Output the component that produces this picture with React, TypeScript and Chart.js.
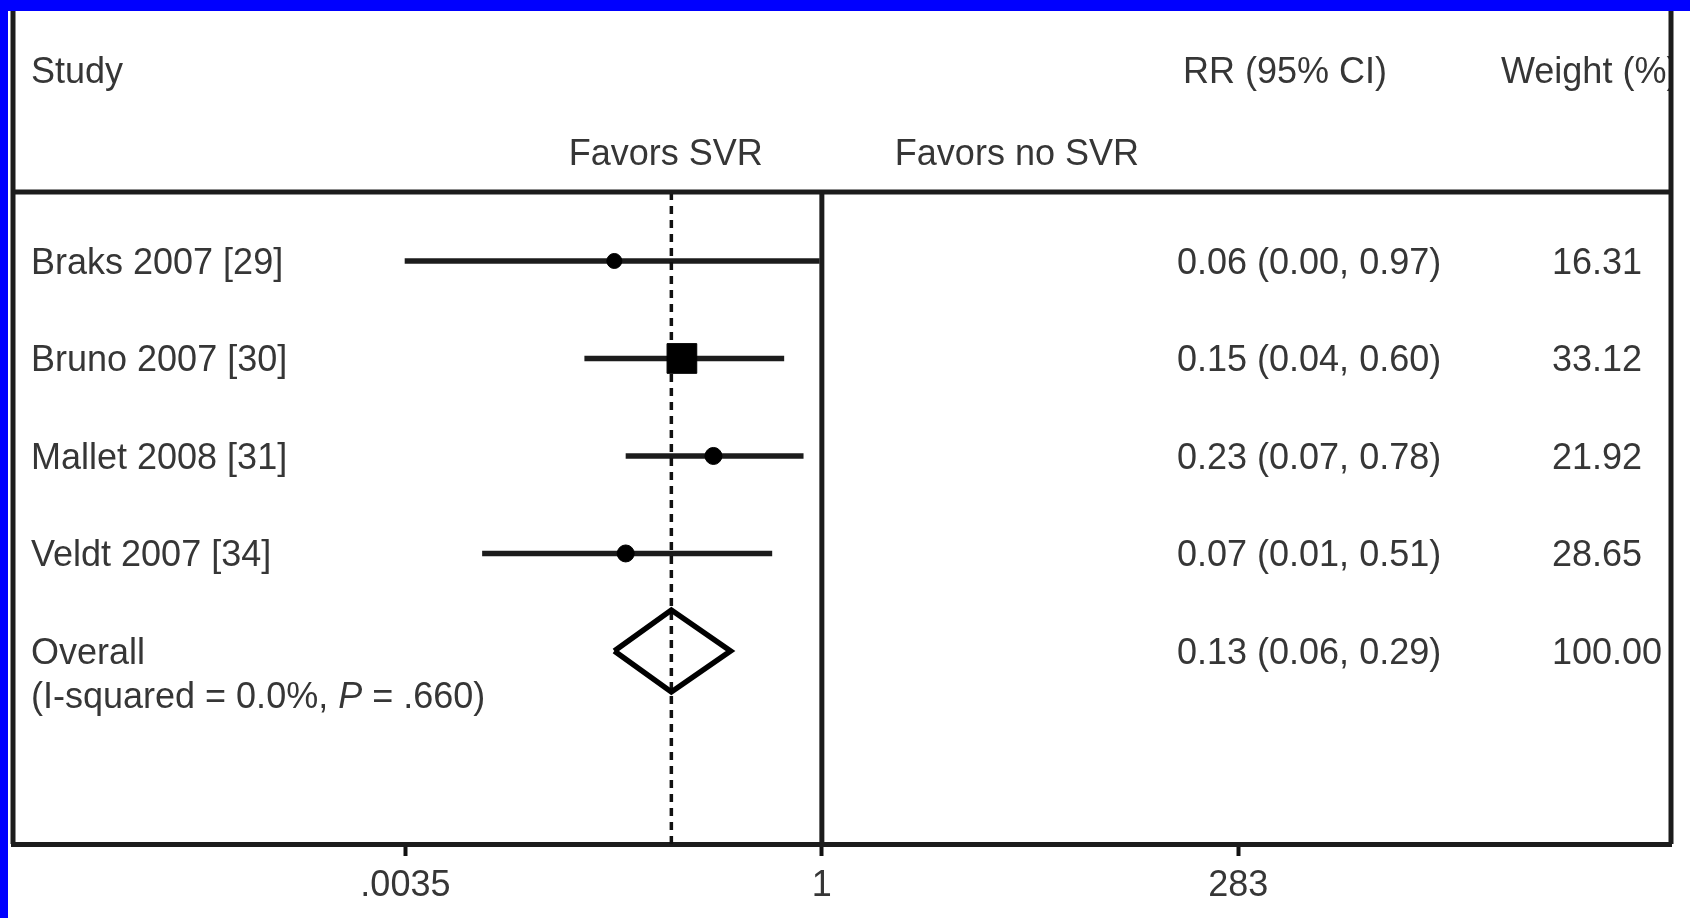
import React, { useEffect, useRef } from 'react';
import { Chart, registerables } from 'chart.js';

Chart.register(...registerables);

// ---------- data ----------
const studies = ['Braks 2007 [29]', 'Bruno 2007 [30]', 'Mallet 2008 [31]', 'Veldt 2007 [34]'];
const rr = [0.06, 0.15, 0.23, 0.07];
const ciLow = [0.0035, 0.04, 0.07, 0.01];
const ciHigh = [0.97, 0.6, 0.78, 0.51];
const weights = [16.31, 33.12, 21.92, 28.65];

const overallLabel = 'Overall';
const overallRR = 0.13;
const overallLow = 0.06;
const overallHigh = 0.29;
const overallWeight = 100.0;

const hetPre = '(I-squared = 0.0%, ';
const hetP = 'P';
const hetPost = ' = .660)';

const tickValues = [1 / 283, 1, 283];
const tickLabels = ['.0035', '1', '283'];

const headerStudy = 'Study';
const headerRR = 'RR (95% CI)';
const headerWeight = 'Weight (%)';
const favorLeft = 'Favors SVR';
const favorRight = 'Favors no SVR';

// ---------- styles / layout ----------
const FAMILY = '"Liberation Sans", Arial, Helvetica, sans-serif';
const FONT_SIZE = 36;
const TEXT_COLOR = '#363636';
const LINE_COLOR = '#1c1c1c';
const X_MIN = 1.73e-5;
const X_MAX = 9.98e4;
const Y_MIN = -1.564;
const Y_MAX = 6.98;
const SEP_Y = 0.292;
const HEADER_Y = -0.96;
const FAVOR_Y = -0.118;
const HET_Y = 5.451;
const TEXT_DY = 3;
const DIAMOND_HALF = 0.42;
const markerStyles = ['circle', 'rect', 'circle', 'circle'];
const markerRadius = [7.5, 21, 8.5, 8.5];

const fmt = (v: number) => v.toFixed(2);

const forestPlugin = {
  id: 'forestDecor',
  afterDraw(chart: any) {
    const { ctx, chartArea: a, scales } = chart;
    const y = scales.y;
    const x = scales.x;
    const py = (v: number) => y.getPixelForValue(v) + TEXT_DY;
    ctx.save();
    ctx.fillStyle = TEXT_COLOR;
    ctx.textBaseline = 'middle';
    const normal = `${FONT_SIZE}px ${FAMILY}`;
    ctx.font = normal;

    const colLeft = a.left + 18;
    const colRR = 1177;
    const colW = 1552;

    // headers
    ctx.textAlign = 'left';
    ctx.fillText(headerStudy, colLeft, py(HEADER_Y));
    ctx.fillText(headerRR, 1183, py(HEADER_Y));
    ctx.save();
    ctx.beginPath();
    ctx.rect(0, 0, a.right + 2, chart.height);
    ctx.clip();
    ctx.fillText(headerWeight, 1501, py(HEADER_Y));
    ctx.restore();

    // favours
    const nullX = x.getPixelForValue(1);
    ctx.textAlign = 'right';
    ctx.fillText(favorLeft, nullX - 59, py(FAVOR_Y));
    ctx.textAlign = 'left';
    ctx.fillText(favorRight, nullX + 73, py(FAVOR_Y));

    // study rows
    studies.forEach((s, i) => {
      const ry = py(i + 1);
      ctx.textAlign = 'left';
      ctx.fillText(s, colLeft, ry);
      ctx.fillText(`${fmt(rr[i])} (${fmt(ciLow[i])}, ${fmt(ciHigh[i])})`, colRR, ry);
      ctx.fillText(fmt(weights[i]), colW, ry);
    });

    // overall
    const oy = py(studies.length + 1);
    ctx.fillText(overallLabel, colLeft, oy);
    ctx.fillText(`${fmt(overallRR)} (${fmt(overallLow)}, ${fmt(overallHigh)})`, colRR, oy);
    ctx.fillText(fmt(overallWeight), colW, oy);

    // heterogeneity
    const hy = py(HET_Y);
    let hx = colLeft;
    ctx.fillText(hetPre, hx, hy);
    hx += ctx.measureText(hetPre).width;
    ctx.font = `italic ${FONT_SIZE}px ${FAMILY}`;
    ctx.fillText(hetP, hx, hy);
    hx += ctx.measureText(hetP).width;
    ctx.font = normal;
    ctx.fillText(hetPost, hx, hy);

    // frame
    ctx.strokeStyle = LINE_COLOR;
    ctx.lineWidth = 5;
    ctx.beginPath();
    ctx.moveTo(a.left, 0);
    ctx.lineTo(a.left, a.bottom);
    ctx.moveTo(a.right, 0);
    ctx.lineTo(a.right, a.bottom);
    const sy = y.getPixelForValue(SEP_Y);
    ctx.moveTo(a.left, sy);
    ctx.lineTo(a.right, sy);
    ctx.stroke();

    // blue selection band
    ctx.fillStyle = '#0000ff';
    ctx.fillRect(0, 0, chart.width, 11);
    ctx.fillRect(0, 0, 8, chart.height);
    ctx.restore();
  },
};

export default function App() {
  const ref = useRef<HTMLCanvasElement>(null);

  useEffect(() => {
    const rows = studies.map((_, i) => i + 1);
    const overallRow = studies.length + 1;

    const ciSets = studies.map((s, i) => ({
      label: s + ' CI',
      data: [
        { x: ciLow[i], y: rows[i] },
        { x: ciHigh[i], y: rows[i] },
      ],
      showLine: true,
      borderColor: LINE_COLOR,
      borderWidth: 5.5,
      pointRadius: 0,
    }));

    const chart = new Chart(ref.current as HTMLCanvasElement, {
      type: 'scatter',
      data: {
        datasets: [
          {
            label: 'RR',
            data: studies.map((_, i) => ({ x: rr[i], y: rows[i] })),
            pointStyle: markerStyles as any,
            pointRadius: markerRadius,
            backgroundColor: '#000',
            borderColor: '#000',
            borderWidth: 1,
          },
          {
            label: 'Overall',
            data: [
              { x: overallLow, y: overallRow },
              { x: overallRR, y: overallRow - DIAMOND_HALF },
              { x: overallHigh, y: overallRow },
              { x: overallRR, y: overallRow + DIAMOND_HALF },
              { x: overallLow, y: overallRow },
            ],
            showLine: true,
            borderColor: '#000',
            borderWidth: 5.5,
            borderJoinStyle: 'miter',
            pointRadius: 0,
            fill: false,
          } as any,
          {
            label: 'Overall effect',
            data: [
              { x: overallRR, y: SEP_Y },
              { x: overallRR, y: Y_MAX },
            ],
            showLine: true,
            borderColor: '#111',
            borderWidth: 3.5,
            borderDash: [8, 6],
            pointRadius: 0,
          },
          {
            label: 'No effect',
            data: [
              { x: 1, y: SEP_Y },
              { x: 1, y: Y_MAX },
            ],
            showLine: true,
            borderColor: LINE_COLOR,
            borderWidth: 5,
            pointRadius: 0,
          },
          ...ciSets,
        ],
      },
      options: {
        responsive: false,
        animation: false,
        devicePixelRatio: 1,
        layout: { autoPadding: false, padding: { left: 13, right: 19, top: 11, bottom: 14 } },
        plugins: { legend: { display: false }, tooltip: { enabled: false } },
        scales: {
          x: {
            type: 'logarithmic',
            min: X_MIN,
            max: X_MAX,
            afterBuildTicks: (s: any) => {
              s.ticks = tickValues.map((v) => ({ value: v }));
            },
            afterFit: (s: any) => {
              s.height = 60;
              s.paddingLeft = 0;
              s.paddingRight = 0;
            },
            ticks: {
              callback: (_v: any, i: number) => tickLabels[i],
              autoSkip: false,
              maxRotation: 0,
              padding: 8,
              color: TEXT_COLOR,
              font: { family: FAMILY, size: FONT_SIZE },
            },
            grid: {
              display: true,
              drawOnChartArea: false,
              drawTicks: true,
              tickLength: 12,
              tickWidth: 4,
              tickColor: '#111',
            },
            border: { display: true, color: LINE_COLOR, width: 5 },
          },
          y: {
            type: 'linear',
            display: false,
            min: Y_MIN,
            max: Y_MAX,
            reverse: true,
          },
        },
      } as any,
      plugins: [forestPlugin],
    });
    return () => chart.destroy();
  }, []);

  return (
    <div style={{ position: 'fixed', left: 0, top: 0, width: 1690, height: 918, background: '#fff' }}>
      <canvas ref={ref} width={1690} height={918} style={{ display: 'block', width: 1690, height: 918 }} />
    </div>
  );
}
